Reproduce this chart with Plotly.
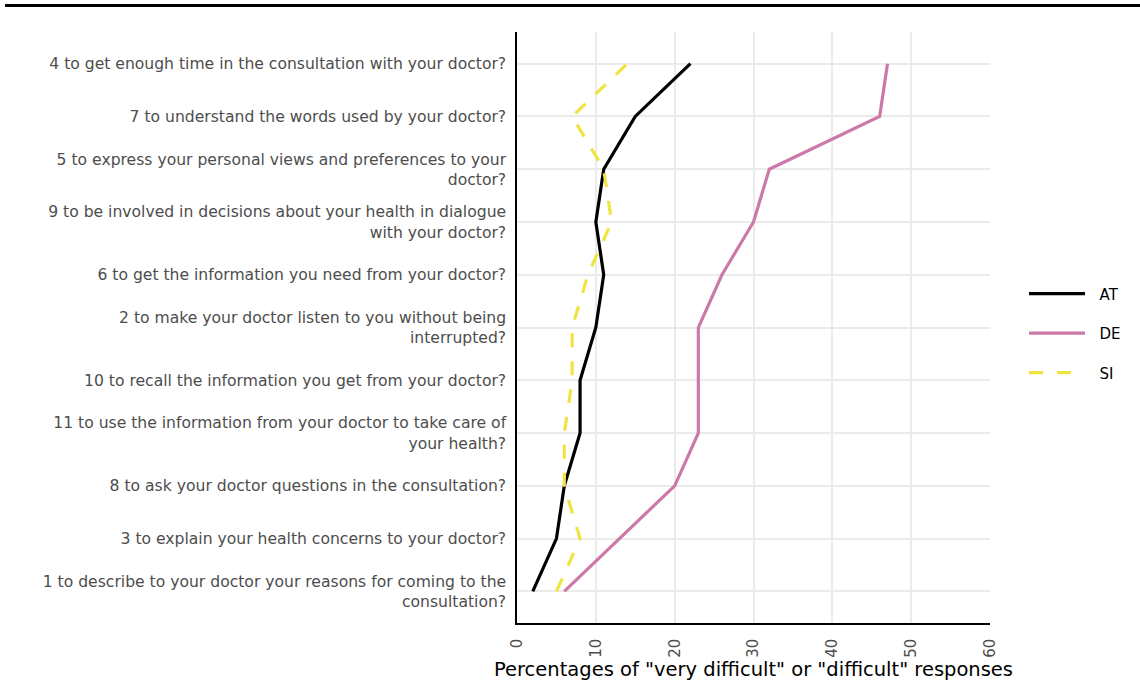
import plotly.graph_objects as go

# Categories, bottom to top
categories = [
    "1 to describe to your doctor your reasons for coming to the<br>consultation?",
    "3 to explain your health concerns to your doctor?",
    "8 to ask your doctor questions in the consultation?",
    "11 to use the information from your doctor to take care of<br>your health?",
    "10 to recall the information you get from your doctor?",
    "2 to make your doctor listen to you without being<br>interrupted?",
    "6 to get the information you need from your doctor?",
    "9 to be involved in decisions about your health in dialogue<br>with your doctor?",
    "5 to express your personal views and preferences to your<br>doctor?",
    "7 to understand the words used by your doctor?",
    "4 to get enough time in the consultation with your doctor?",
]

at_values = [2, 5, 6, 8, 8, 10, 11, 10, 11, 15, 22]
de_values = [6, 13, 20, 23, 23, 23, 26, 30, 32, 46, 47]
si_values = [5, 8, 6, 6, 7, 7, 9, 12, 11, 7, 14]

x_ticks = [0, 10, 20, 30, 40, 50, 60]

W, H = 1140, 689
L, R, T, B = 517, 150, 32, 66
pw = W - L - R
ph = H - T - B

NB = "\u00a0\u00a0"

fig = go.Figure()
fig.add_trace(go.Scatter(x=at_values, y=categories, mode="lines", name=NB + "AT",
                         line=dict(color="#000000", width=3.2), legendgroup="AT"))
fig.add_trace(go.Scatter(x=de_values, y=categories, mode="lines", name=NB + "DE",
                         line=dict(color="#CC79A7", width=3.2), legendgroup="DE"))
fig.add_trace(go.Scatter(x=si_values, y=categories, mode="lines", name=NB + "SI",
                         line=dict(color="#F0E442", width=3.2, dash="14px,14px"), legendgroup="SI"))

fig.update_layout(
    width=W, height=H,
    margin=dict(l=L, r=R, t=T, b=B, pad=0, autoexpand=False),
    paper_bgcolor="white", plot_bgcolor="white",
    font=dict(family="DejaVu Sans, sans-serif", size=15, color="#4d4d4d"),
    xaxis=dict(
        range=[0, 60], tickvals=x_ticks, ticktext=[str(v) for v in x_ticks],
        tickangle=-90, showgrid=True, gridcolor="#ebebeb", gridwidth=1.5,
        showline=True, linecolor="black", linewidth=1.5, zeroline=False,
        ticks="", ticklabelstandoff=8, automargin=False,
        tickfont=dict(size=15, color="#4d4d4d"),
        title=dict(text='Percentages of "very difficult" or "difficult" responses',
                   font=dict(size=19.5, color="black"), standoff=1),
    ),
    yaxis=dict(
        type="category", categoryorder="array", categoryarray=categories,
        range=[-0.6, 10.6], showgrid=True, gridcolor="#ebebeb", gridwidth=1.5,
        showline=True, linecolor="black", linewidth=1.5, zeroline=False,
        ticks="", ticklabelstandoff=6, automargin=False,
        tickfont=dict(size=15.6, color="#4d4d4d"),
    ),
    legend=dict(
        x=(1029 - 517 - 5) / pw, y=0.49, xanchor="left", yanchor="middle",
        font=dict(size=15, color="black"), itemwidth=56,
        tracegroupgap=17, traceorder="grouped",
        bgcolor="rgba(0,0,0,0)",
    ),
    showlegend=True,
)

# top rule
fig.add_shape(type="line", xref="paper", yref="paper",
              x0=(5 - L) / pw, x1=(W - L) / pw,
              y0=(H - B - 5.5) / ph, y1=(H - B - 5.5) / ph,
              line=dict(color="black", width=3))

fig.write_html("out.html",
               config={"displayModeBar": False},
               post_script="document.body.style.margin='0';document.body.style.padding='0';")
